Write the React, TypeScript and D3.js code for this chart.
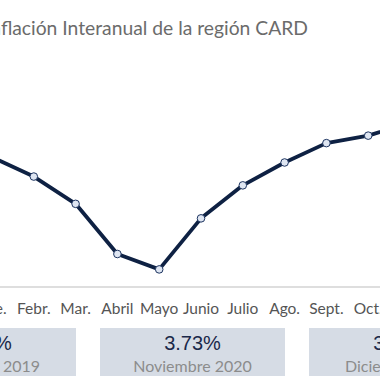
import React from "react";
import * as d3 from "d3";

const months = ["Ene.", "Febr.", "Mar.", "Abril", "Mayo", "Junio", "Julio", "Ago.", "Sept.", "Oct.", "Nov.", "Dic."];
const inflation = [2.95, 2.51, 1.89, 0.75, 0.4, 1.56, 2.31, 2.83, 3.27, 3.44, 3.73, 3.81];
const boxValues = ["1.44%", "3.73%", "3.81%"];
const boxLabels = ["Diciembre 2019", "Noviembre 2020", "Diciembre 2020"];
const title = "Inflación Interanual de la región CARD";

const W = 380;
const H = 380;

export default function App() {
  const x = d3.scalePoint<string>().domain(months).range([-8, -8 + 41.8 * 11]);
  const y = d3.scaleLinear().domain([0, 4]).range([287, 111]);
  const line = d3
    .line<number>()
    .x((_, i) => x(months[i]) as number)
    .y((d) => y(d));

  const boxX = d3.scaleLinear().domain([0, 1]).range([-109, 100]);
  const boxW = 185;

  const geo = "'Lato', 'Noto Sans', sans-serif";

  return (
    <svg
      width={W}
      height={H}
      style={{ position: "absolute", left: 0, top: 0, background: "#fff" }}
    >
      <rect x={0} y={0} width={W} height={H} fill="#fff" />
      <text
        x={308}
        y={35}
        textAnchor="end"
        fontFamily={geo}
        fontSize={19.3}
        fill="#6b6b6b"
      >
        {title}
      </text>
      <line x1={0} x2={W} y1={y(0)} y2={y(0)} stroke="#bdbdbd" strokeWidth={1.2} />
      <path d={line(inflation) || ""} fill="none" stroke="#0e2143" strokeWidth={3.8} strokeLinejoin="round" />
      {inflation.map((v, i) => (
        <circle
          key={i}
          cx={x(months[i]) as number}
          cy={y(v)}
          r={3.8}
          fill="#dfe6f2"
          stroke="#1d3460"
          strokeWidth={1}
        />
      ))}
      {months.map((m) => (
        <text
          key={m}
          x={x(m) as number}
          y={314}
          textAnchor="middle"
          fontFamily={geo}
          fontSize={15.5}
          fill="#555"
        >
          {m}
        </text>
      ))}
      {boxValues.map((v, i) => {
        const bx = boxX(i);
        return (
          <g key={i}>
            <rect x={bx} y={328} width={boxW} height={48} fill="#d6dce5" />
            <text
              x={bx + boxW / 2}
              y={349.5}
              textAnchor="middle"
              fontFamily="'Liberation Sans', Arial, sans-serif"
              fontSize={20}
              fill="#1a2849"
            >
              {v}
            </text>
            <text
              x={bx + boxW / 2}
              y={371.5}
              textAnchor="middle"
              fontFamily={geo}
              fontSize={16}
              fill="#8c8c8c"
            >
              {boxLabels[i]}
            </text>
          </g>
        );
      })}
    </svg>
  );
}
